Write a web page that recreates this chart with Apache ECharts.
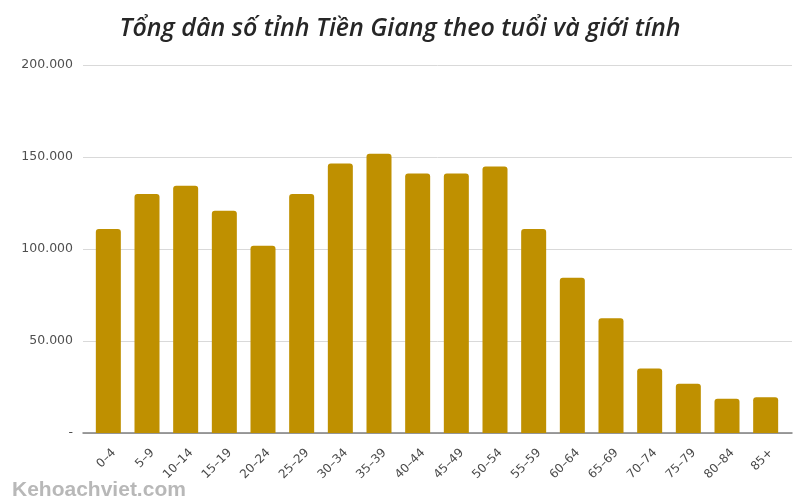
<!DOCTYPE html>
<html>
<head>
<meta charset="utf-8">
<script src="https://cdn.jsdelivr.net/npm/echarts@6/dist/echarts.min.js"></script>
<style>html,body{margin:0;padding:0;background:#fff}#c{width:800px;height:500px}</style>
</head>
<body>
<div id="c"></div>
<script>
const titleText = 'Tổng dân số tỉnh Tiền Giang theo tuổi và giới tính';
const categories = ['0–4','5–9','10–14','15–19','20–24','25–29','30–34','35–39','40–44','45–49','50–54','55–59','60–64','65–69','70–74','75–79','80–84','85+'];
const population = [110900,129900,134400,120800,101800,129900,146400,151800,141100,141100,144900,110900,84400,62300,35100,26800,18600,19400];
const yTicks = [0,50000,100000,150000,200000];
const watermark = 'Kehoachviet.com';

function fmt(v){
  if (v === 0) return '-';
  return String(Math.round(v)).replace(/\B(?=(\d{3})+(?!\d))/g, '.');
}

const chart = echarts.init(document.getElementById('c'), null, {renderer:'canvas'});
const yMax = yTicks[yTicks.length-1];
const yInt = yTicks[1]-yTicks[0];
chart.setOption({
  animation:false,
  backgroundColor:'#ffffff',
  title:{
    text:titleText, left:'center', top:11,
    textStyle:{fontFamily:'Open Sans', fontStyle:'italic', fontWeight:600, fontSize:25, color:'#262626'}
  },
  grid:[
    {left:83, right:8, top:65, bottom:67},
    {left:89, right:15, top:65, bottom:67},
    {left:94.5, right:9.5, top:65, bottom:67}
  ],
  xAxis:[
    {gridIndex:0, type:'value', min:0, max:1, show:true,
     axisLine:{show:true, lineStyle:{color:'#7f7f7f', width:1.5}},
     axisTick:{show:false}, axisLabel:{show:false}, splitLine:{show:false}},
    {gridIndex:1, type:'category', data:categories,
     axisLine:{show:false}, axisTick:{show:false}, axisLabel:{show:false}},
    {gridIndex:2, type:'category', data:categories,
     axisLine:{show:false}, axisTick:{show:false},
     axisLabel:{rotate:45, margin:18, interval:0, fontFamily:'DejaVu Sans', fontSize:12, color:'#4a4a4a'}}
  ],
  yAxis:[
    {gridIndex:0, type:'value', min:0, max:yMax, interval:yInt,
     axisLine:{show:false}, axisTick:{show:false},
     axisLabel:{formatter:fmt, margin:10, fontFamily:'DejaVu Sans', fontSize:12.5, color:'#4f4f4f'},
     splitLine:{lineStyle:{color:'#d9d9d9', width:1}}},
    {gridIndex:1, type:'value', min:0, max:yMax, interval:yInt, show:false, splitLine:{show:false}},
    {gridIndex:2, type:'value', min:0, max:yMax, interval:yInt, show:false, splitLine:{show:false}}
  ],
  graphic:[
    {type:'text', left:12, top:480, z:100,
     style:{text:watermark, font:'bold 21px "Liberation Sans"', fill:'#b8b8b8'}}
  ],
  series:[
    {type:'bar', xAxisIndex:1, yAxisIndex:1, data:population, barWidth:25,
     itemStyle:{color:'#BF9000', borderRadius:[3,3,0,0]}}
  ]
});
</script>
</body>
</html>
